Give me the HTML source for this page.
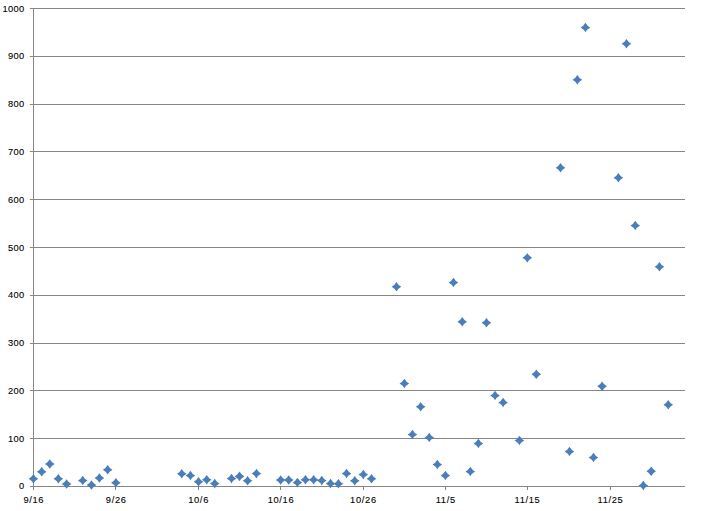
<!DOCTYPE html>
<html><head><meta charset="utf-8"><title>chart</title>
<style>
html,body{margin:0;padding:0;background:#fff;}
body{width:705px;height:511px;overflow:hidden;}
svg{display:block;}
text{font-family:"Liberation Sans",sans-serif;font-size:9.3px;fill:#000;stroke:#000;stroke-width:0.1px;}
</style></head><body>
<svg width="705" height="511" viewBox="0 0 705 511">
<rect x="0" y="0" width="705" height="511" fill="#ffffff"/>
<g fill="#868686" shape-rendering="crispEdges">
<rect x="30" y="486" width="655" height="1"/>
<rect x="30" y="438" width="655" height="1"/>
<rect x="30" y="390" width="655" height="1"/>
<rect x="30" y="343" width="655" height="1"/>
<rect x="30" y="295" width="655" height="1"/>
<rect x="30" y="247" width="655" height="1"/>
<rect x="30" y="199" width="655" height="1"/>
<rect x="30" y="151" width="655" height="1"/>
<rect x="30" y="104" width="655" height="1"/>
<rect x="30" y="56" width="655" height="1"/>
<rect x="30" y="8" width="655" height="1"/>
<rect x="33" y="8" width="1" height="479"/>
<rect x="33" y="486" width="1" height="4"/>
<rect x="115" y="486" width="1" height="4"/>
<rect x="198" y="486" width="1" height="4"/>
<rect x="280" y="486" width="1" height="4"/>
<rect x="363" y="486" width="1" height="4"/>
<rect x="445" y="486" width="1" height="4"/>
<rect x="527" y="486" width="1" height="4"/>
<rect x="610" y="486" width="1" height="4"/>
</g>
<g text-anchor="end" letter-spacing="0.3">
<text x="24.5" y="489">0</text>
<text x="24.5" y="442">100</text>
<text x="24.5" y="394">200</text>
<text x="24.5" y="346">300</text>
<text x="24.5" y="298">400</text>
<text x="24.5" y="251">500</text>
<text x="24.5" y="203">600</text>
<text x="24.5" y="155">700</text>
<text x="24.5" y="107">800</text>
<text x="24.5" y="59">900</text>
<text x="24.5" y="12">1000</text>
</g>
<g text-anchor="middle" letter-spacing="0.68">
<text x="33.8" y="503.3">9/16</text>
<text x="116.2" y="503.3">9/26</text>
<text x="198.6" y="503.3">10/6</text>
<text x="281.0" y="503.3">10/16</text>
<text x="363.4" y="503.3">10/26</text>
<text x="445.7" y="503.3">11/5</text>
<text x="527.5" y="503.3">11/15</text>
<text x="610.5" y="503.3">11/25</text>
</g>
<g fill="#4a7ebb">
<path transform="translate(33.43 478.70)" d="M0,-4.8 Q1.7,-1.7 4.8,0 Q1.7,1.7 0,4.8 Q-1.7,1.7 -4.8,0 Q-1.7,-1.7 0,-4.8Z"/>
<path transform="translate(41.68 471.70)" d="M0,-4.8 Q1.7,-1.7 4.8,0 Q1.7,1.7 0,4.8 Q-1.7,1.7 -4.8,0 Q-1.7,-1.7 0,-4.8Z"/>
<path transform="translate(49.75 463.95)" d="M0,-4.8 Q1.7,-1.7 4.8,0 Q1.7,1.7 0,4.8 Q-1.7,1.7 -4.8,0 Q-1.7,-1.7 0,-4.8Z"/>
<path transform="translate(58.34 478.70)" d="M0,-4.8 Q1.7,-1.7 4.8,0 Q1.7,1.7 0,4.8 Q-1.7,1.7 -4.8,0 Q-1.7,-1.7 0,-4.8Z"/>
<path transform="translate(66.59 483.95)" d="M0,-4.8 Q1.7,-1.7 4.8,0 Q1.7,1.7 0,4.8 Q-1.7,1.7 -4.8,0 Q-1.7,-1.7 0,-4.8Z"/>
<path transform="translate(82.73 480.45)" d="M0,-4.8 Q1.7,-1.7 4.8,0 Q1.7,1.7 0,4.8 Q-1.7,1.7 -4.8,0 Q-1.7,-1.7 0,-4.8Z"/>
<path transform="translate(91.50 484.95)" d="M0,-4.8 Q1.7,-1.7 4.8,0 Q1.7,1.7 0,4.8 Q-1.7,1.7 -4.8,0 Q-1.7,-1.7 0,-4.8Z"/>
<path transform="translate(99.40 477.95)" d="M0,-4.8 Q1.7,-1.7 4.8,0 Q1.7,1.7 0,4.8 Q-1.7,1.7 -4.8,0 Q-1.7,-1.7 0,-4.8Z"/>
<path transform="translate(107.65 469.70)" d="M0,-4.8 Q1.7,-1.7 4.8,0 Q1.7,1.7 0,4.8 Q-1.7,1.7 -4.8,0 Q-1.7,-1.7 0,-4.8Z"/>
<path transform="translate(115.89 482.70)" d="M0,-4.8 Q1.7,-1.7 4.8,0 Q1.7,1.7 0,4.8 Q-1.7,1.7 -4.8,0 Q-1.7,-1.7 0,-4.8Z"/>
<path transform="translate(181.76 473.80)" d="M0,-4.8 Q1.7,-1.7 4.8,0 Q1.7,1.7 0,4.8 Q-1.7,1.7 -4.8,0 Q-1.7,-1.7 0,-4.8Z"/>
<path transform="translate(190.39 475.60)" d="M0,-4.8 Q1.7,-1.7 4.8,0 Q1.7,1.7 0,4.8 Q-1.7,1.7 -4.8,0 Q-1.7,-1.7 0,-4.8Z"/>
<path transform="translate(198.53 481.80)" d="M0,-4.8 Q1.7,-1.7 4.8,0 Q1.7,1.7 0,4.8 Q-1.7,1.7 -4.8,0 Q-1.7,-1.7 0,-4.8Z"/>
<path transform="translate(206.74 479.80)" d="M0,-4.8 Q1.7,-1.7 4.8,0 Q1.7,1.7 0,4.8 Q-1.7,1.7 -4.8,0 Q-1.7,-1.7 0,-4.8Z"/>
<path transform="translate(214.75 483.60)" d="M0,-4.8 Q1.7,-1.7 4.8,0 Q1.7,1.7 0,4.8 Q-1.7,1.7 -4.8,0 Q-1.7,-1.7 0,-4.8Z"/>
<path transform="translate(231.52 478.60)" d="M0,-4.8 Q1.7,-1.7 4.8,0 Q1.7,1.7 0,4.8 Q-1.7,1.7 -4.8,0 Q-1.7,-1.7 0,-4.8Z"/>
<path transform="translate(239.52 476.40)" d="M0,-4.8 Q1.7,-1.7 4.8,0 Q1.7,1.7 0,4.8 Q-1.7,1.7 -4.8,0 Q-1.7,-1.7 0,-4.8Z"/>
<path transform="translate(247.59 480.80)" d="M0,-4.8 Q1.7,-1.7 4.8,0 Q1.7,1.7 0,4.8 Q-1.7,1.7 -4.8,0 Q-1.7,-1.7 0,-4.8Z"/>
<path transform="translate(256.43 473.60)" d="M0,-4.8 Q1.7,-1.7 4.8,0 Q1.7,1.7 0,4.8 Q-1.7,1.7 -4.8,0 Q-1.7,-1.7 0,-4.8Z"/>
<path transform="translate(280.65 480.00)" d="M0,-4.8 Q1.7,-1.7 4.8,0 Q1.7,1.7 0,4.8 Q-1.7,1.7 -4.8,0 Q-1.7,-1.7 0,-4.8Z"/>
<path transform="translate(288.72 480.00)" d="M0,-4.8 Q1.7,-1.7 4.8,0 Q1.7,1.7 0,4.8 Q-1.7,1.7 -4.8,0 Q-1.7,-1.7 0,-4.8Z"/>
<path transform="translate(297.42 482.60)" d="M0,-4.8 Q1.7,-1.7 4.8,0 Q1.7,1.7 0,4.8 Q-1.7,1.7 -4.8,0 Q-1.7,-1.7 0,-4.8Z"/>
<path transform="translate(305.42 479.80)" d="M0,-4.8 Q1.7,-1.7 4.8,0 Q1.7,1.7 0,4.8 Q-1.7,1.7 -4.8,0 Q-1.7,-1.7 0,-4.8Z"/>
<path transform="translate(313.63 479.80)" d="M0,-4.8 Q1.7,-1.7 4.8,0 Q1.7,1.7 0,4.8 Q-1.7,1.7 -4.8,0 Q-1.7,-1.7 0,-4.8Z"/>
<path transform="translate(321.77 480.60)" d="M0,-4.8 Q1.7,-1.7 4.8,0 Q1.7,1.7 0,4.8 Q-1.7,1.7 -4.8,0 Q-1.7,-1.7 0,-4.8Z"/>
<path transform="translate(330.55 483.60)" d="M0,-4.8 Q1.7,-1.7 4.8,0 Q1.7,1.7 0,4.8 Q-1.7,1.7 -4.8,0 Q-1.7,-1.7 0,-4.8Z"/>
<path transform="translate(338.41 483.80)" d="M0,-4.8 Q1.7,-1.7 4.8,0 Q1.7,1.7 0,4.8 Q-1.7,1.7 -4.8,0 Q-1.7,-1.7 0,-4.8Z"/>
<path transform="translate(346.55 473.60)" d="M0,-4.8 Q1.7,-1.7 4.8,0 Q1.7,1.7 0,4.8 Q-1.7,1.7 -4.8,0 Q-1.7,-1.7 0,-4.8Z"/>
<path transform="translate(354.76 480.80)" d="M0,-4.8 Q1.7,-1.7 4.8,0 Q1.7,1.7 0,4.8 Q-1.7,1.7 -4.8,0 Q-1.7,-1.7 0,-4.8Z"/>
<path transform="translate(363.32 474.60)" d="M0,-4.8 Q1.7,-1.7 4.8,0 Q1.7,1.7 0,4.8 Q-1.7,1.7 -4.8,0 Q-1.7,-1.7 0,-4.8Z"/>
<path transform="translate(371.53 478.80)" d="M0,-4.8 Q1.7,-1.7 4.8,0 Q1.7,1.7 0,4.8 Q-1.7,1.7 -4.8,0 Q-1.7,-1.7 0,-4.8Z"/>
<path transform="translate(396.45 286.70)" d="M0,-4.8 Q1.7,-1.7 4.8,0 Q1.7,1.7 0,4.8 Q-1.7,1.7 -4.8,0 Q-1.7,-1.7 0,-4.8Z"/>
<path transform="translate(404.34 383.45)" d="M0,-4.8 Q1.7,-1.7 4.8,0 Q1.7,1.7 0,4.8 Q-1.7,1.7 -4.8,0 Q-1.7,-1.7 0,-4.8Z"/>
<path transform="translate(412.41 434.45)" d="M0,-4.8 Q1.7,-1.7 4.8,0 Q1.7,1.7 0,4.8 Q-1.7,1.7 -4.8,0 Q-1.7,-1.7 0,-4.8Z"/>
<path transform="translate(420.66 406.70)" d="M0,-4.8 Q1.7,-1.7 4.8,0 Q1.7,1.7 0,4.8 Q-1.7,1.7 -4.8,0 Q-1.7,-1.7 0,-4.8Z"/>
<path transform="translate(429.26 437.45)" d="M0,-4.8 Q1.7,-1.7 4.8,0 Q1.7,1.7 0,4.8 Q-1.7,1.7 -4.8,0 Q-1.7,-1.7 0,-4.8Z"/>
<path transform="translate(437.33 464.45)" d="M0,-4.8 Q1.7,-1.7 4.8,0 Q1.7,1.7 0,4.8 Q-1.7,1.7 -4.8,0 Q-1.7,-1.7 0,-4.8Z"/>
<path transform="translate(445.40 475.45)" d="M0,-4.8 Q1.7,-1.7 4.8,0 Q1.7,1.7 0,4.8 Q-1.7,1.7 -4.8,0 Q-1.7,-1.7 0,-4.8Z"/>
<path transform="translate(453.47 282.45)" d="M0,-4.8 Q1.7,-1.7 4.8,0 Q1.7,1.7 0,4.8 Q-1.7,1.7 -4.8,0 Q-1.7,-1.7 0,-4.8Z"/>
<path transform="translate(462.24 321.70)" d="M0,-4.8 Q1.7,-1.7 4.8,0 Q1.7,1.7 0,4.8 Q-1.7,1.7 -4.8,0 Q-1.7,-1.7 0,-4.8Z"/>
<path transform="translate(470.31 471.45)" d="M0,-4.8 Q1.7,-1.7 4.8,0 Q1.7,1.7 0,4.8 Q-1.7,1.7 -4.8,0 Q-1.7,-1.7 0,-4.8Z"/>
<path transform="translate(478.39 443.45)" d="M0,-4.8 Q1.7,-1.7 4.8,0 Q1.7,1.7 0,4.8 Q-1.7,1.7 -4.8,0 Q-1.7,-1.7 0,-4.8Z"/>
<path transform="translate(486.46 322.70)" d="M0,-4.8 Q1.7,-1.7 4.8,0 Q1.7,1.7 0,4.8 Q-1.7,1.7 -4.8,0 Q-1.7,-1.7 0,-4.8Z"/>
<path transform="translate(495.05 395.45)" d="M0,-4.8 Q1.7,-1.7 4.8,0 Q1.7,1.7 0,4.8 Q-1.7,1.7 -4.8,0 Q-1.7,-1.7 0,-4.8Z"/>
<path transform="translate(503.12 402.45)" d="M0,-4.8 Q1.7,-1.7 4.8,0 Q1.7,1.7 0,4.8 Q-1.7,1.7 -4.8,0 Q-1.7,-1.7 0,-4.8Z"/>
<path transform="translate(519.44 440.45)" d="M0,-4.8 Q1.7,-1.7 4.8,0 Q1.7,1.7 0,4.8 Q-1.7,1.7 -4.8,0 Q-1.7,-1.7 0,-4.8Z"/>
<path transform="translate(527.34 257.70)" d="M0,-4.8 Q1.7,-1.7 4.8,0 Q1.7,1.7 0,4.8 Q-1.7,1.7 -4.8,0 Q-1.7,-1.7 0,-4.8Z"/>
<path transform="translate(536.29 374.20)" d="M0,-4.8 Q1.7,-1.7 4.8,0 Q1.7,1.7 0,4.8 Q-1.7,1.7 -4.8,0 Q-1.7,-1.7 0,-4.8Z"/>
<path transform="translate(560.50 167.70)" d="M0,-4.8 Q1.7,-1.7 4.8,0 Q1.7,1.7 0,4.8 Q-1.7,1.7 -4.8,0 Q-1.7,-1.7 0,-4.8Z"/>
<path transform="translate(569.45 451.45)" d="M0,-4.8 Q1.7,-1.7 4.8,0 Q1.7,1.7 0,4.8 Q-1.7,1.7 -4.8,0 Q-1.7,-1.7 0,-4.8Z"/>
<path transform="translate(577.34 79.70)" d="M0,-4.8 Q1.7,-1.7 4.8,0 Q1.7,1.7 0,4.8 Q-1.7,1.7 -4.8,0 Q-1.7,-1.7 0,-4.8Z"/>
<path transform="translate(585.41 27.45)" d="M0,-4.8 Q1.7,-1.7 4.8,0 Q1.7,1.7 0,4.8 Q-1.7,1.7 -4.8,0 Q-1.7,-1.7 0,-4.8Z"/>
<path transform="translate(593.49 457.45)" d="M0,-4.8 Q1.7,-1.7 4.8,0 Q1.7,1.7 0,4.8 Q-1.7,1.7 -4.8,0 Q-1.7,-1.7 0,-4.8Z"/>
<path transform="translate(602.08 386.20)" d="M0,-4.8 Q1.7,-1.7 4.8,0 Q1.7,1.7 0,4.8 Q-1.7,1.7 -4.8,0 Q-1.7,-1.7 0,-4.8Z"/>
<path transform="translate(618.40 177.70)" d="M0,-4.8 Q1.7,-1.7 4.8,0 Q1.7,1.7 0,4.8 Q-1.7,1.7 -4.8,0 Q-1.7,-1.7 0,-4.8Z"/>
<path transform="translate(626.47 43.70)" d="M0,-4.8 Q1.7,-1.7 4.8,0 Q1.7,1.7 0,4.8 Q-1.7,1.7 -4.8,0 Q-1.7,-1.7 0,-4.8Z"/>
<path transform="translate(635.24 225.45)" d="M0,-4.8 Q1.7,-1.7 4.8,0 Q1.7,1.7 0,4.8 Q-1.7,1.7 -4.8,0 Q-1.7,-1.7 0,-4.8Z"/>
<path transform="translate(643.31 485.45)" d="M0,-4.8 Q1.7,-1.7 4.8,0 Q1.7,1.7 0,4.8 Q-1.7,1.7 -4.8,0 Q-1.7,-1.7 0,-4.8Z"/>
<path transform="translate(651.21 471.20)" d="M0,-4.8 Q1.7,-1.7 4.8,0 Q1.7,1.7 0,4.8 Q-1.7,1.7 -4.8,0 Q-1.7,-1.7 0,-4.8Z"/>
<path transform="translate(659.46 266.70)" d="M0,-4.8 Q1.7,-1.7 4.8,0 Q1.7,1.7 0,4.8 Q-1.7,1.7 -4.8,0 Q-1.7,-1.7 0,-4.8Z"/>
<path transform="translate(668.23 404.70)" d="M0,-4.8 Q1.7,-1.7 4.8,0 Q1.7,1.7 0,4.8 Q-1.7,1.7 -4.8,0 Q-1.7,-1.7 0,-4.8Z"/>
</g>
</svg></body></html>
